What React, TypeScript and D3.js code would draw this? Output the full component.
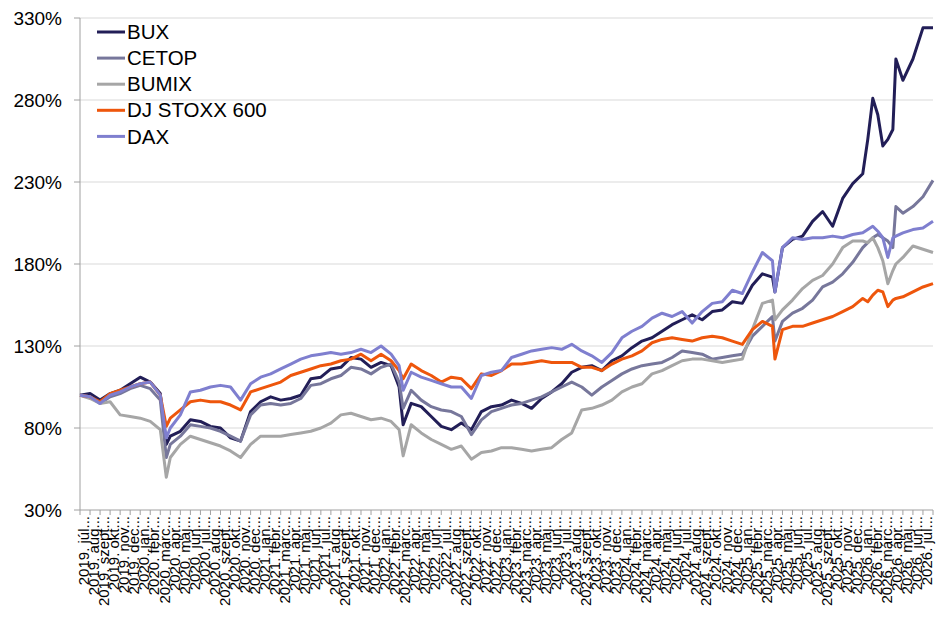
import * as d3 from 'd3';

// month offsets from 2019 júl. 1 (irregular: monthly plus a few sharp turns)
const sampleMonths = [
  0, 1, 2, 3, 4, 5, 6, 7, 8, 8.6,
  9, 10, 11, 12, 13, 14, 15, 16, 17,
  18, 19, 20, 21, 22, 23, 24, 25, 26, 27, 28, 29, 30, 31,
  31.8, 32.2,
  33, 34, 35, 36, 37, 38, 39, 40, 41, 42, 43, 44, 45, 46, 47, 48, 49, 50, 51,
  52, 53, 54, 55, 56, 57, 58, 59, 60, 61, 62, 63, 64, 65, 66, 67, 68, 69,
  69.25,
  70, 71, 72, 73, 74, 75, 76, 77, 78,
  78.5, 79, 79.5, 80, 80.5, 81, 81.3, 82, 83, 84, 85,
];

const bux = [
  100, 101, 97, 101, 103, 107, 111, 108, 101, 70,
  75, 78, 85, 84, 81, 80, 74, 72, 90,
  96, 99, 97, 98, 100, 110, 111, 116, 117, 123, 122, 117, 120, 118,
  105, 82,
  95, 93, 87, 81, 79, 83, 79, 90, 93, 94, 97, 95, 92, 98, 102, 107, 114, 117, 118,
  115, 121, 124, 129, 133, 135, 139, 143, 146, 149, 146, 151, 152, 157, 156, 167, 174, 172,
  163,
  190, 195, 197, 206, 212, 203, 220, 229, 235,
  256, 281, 271, 252, 256, 262, 305, 292, 305, 324, 324,
];

const cetop = [
  100, 99, 95, 99, 101, 104, 106, 104, 97, 62,
  70, 75, 82, 81, 80, 78, 75, 72, 88,
  94, 95, 94, 95, 98, 106, 107, 110, 112, 117, 116, 113, 117, 119,
  108, 92,
  103, 97, 93, 91, 90, 87, 76, 85, 90, 92, 94, 95, 97, 99, 102, 105, 108, 105, 100,
  105, 109, 113, 116, 118, 119, 120, 123, 127, 126, 125, 122, 123, 124, 125, 136, 142, 148,
  133,
  145, 150, 153, 158, 166, 169, 174, 181, 190,
  193, 196, 198, 196, 194, 190, 215, 211, 215, 221, 231,
];

const bumix = [
  100, 98, 95, 96, 88, 87, 86, 84, 79, 50,
  62, 70, 75, 73, 71, 69, 66, 62, 70,
  75, 75, 75, 76, 77, 78, 80, 83, 88, 89, 87, 85, 86, 84,
  79, 63,
  82, 77, 73, 70, 67, 69, 61, 65, 66, 68, 68, 67, 66, 67, 68, 73, 77, 91, 92,
  94, 97, 102, 105, 107, 113, 115, 118, 121, 122, 122, 121, 120, 121, 122, 140, 156, 158,
  146,
  152, 158, 165, 170, 173, 180, 190, 194, 194,
  193, 196, 190, 182, 168, 176, 180, 184, 191, 189, 187,
];

const stoxx = [
  100, 99, 96, 101, 103, 105, 107, 108, 100, 81,
  86, 91, 96, 97, 96, 96, 94, 91, 102,
  104, 106, 108, 112, 114, 116, 118, 119, 121, 122, 125, 121, 125, 121,
  115, 110,
  119, 115, 112, 108, 111, 110, 104, 113, 112, 115, 119, 119, 120, 121, 120, 120, 120, 117, 117,
  115, 119, 122, 124, 127, 132, 134, 135, 134, 133, 135, 136, 135, 133, 131, 140, 145, 142,
  122,
  140, 142, 142, 144, 146, 148, 151, 154, 159,
  157, 161, 164, 163, 154, 158, 159, 160, 163, 166, 168,
];

const dax = [
  100, 99, 95, 100, 102, 105, 107, 108, 100, 74,
  80, 88, 102, 103, 105, 106, 105, 97, 107,
  111, 113, 116, 119, 122, 124, 125, 126, 125, 126, 128, 126, 130, 125,
  118, 103,
  114, 111, 109, 107, 105, 105, 98, 112, 114, 115, 123, 125, 127, 128, 129, 128, 131, 127, 124,
  120, 126, 135, 139, 142, 147, 150, 148, 151, 144, 151, 156, 157, 164, 162, 175, 187, 182,
  163,
  190, 196, 195, 196, 196, 197, 196, 198, 199,
  201, 203, 200, 196, 184, 196, 197, 199, 201, 202, 206,
];

const seriesNames = ['BUX', 'CETOP', 'BUMIX', 'DJ STOXX 600', 'DAX'];
const seriesValues = [bux, cetop, bumix, stoxx, dax];
const seriesColors = ['#221e57', '#77779b', '#a6a6a6', '#ee560c', '#7f7fcf'];

const monthNames = ['jan', 'febr', 'márc', 'ápr', 'máj', 'jún', 'júl', 'aug', 'szept', 'okt', 'nov', 'dec'];
const firstYear = 2019;
const firstMonth = 6; // júl.
const monthCount = 85;
const monthLabels = d3.range(monthCount).map(i => {
  const m = firstMonth + i;
  return `${firstYear + Math.floor(m / 12)}. ${monthNames[m % 12]}...`;
});

const yTicks = [30, 80, 130, 180, 230, 280, 330];

const W = 949;
const H = 618;
const font = '"Liberation Sans", Arial, sans-serif';

export default function App() {
  const x = d3.scaleLinear().domain([0, monthCount]).range([80, 933]);
  const y = d3.scaleLinear().domain([30, 330]).range([510, 18]);

  const line = d3.line<number>()
    .x((_, i) => x(sampleMonths[i]))
    .y(d => y(d));

  const axisColor = '#a0a0a0';

  return (
    <svg width={W} height={H} style={{ position: 'absolute', left: 0, top: 0, background: '#fff' }}
      fontFamily={font}>
      {/* gridlines */}
      {yTicks.slice(1).map(t => (
        <line key={t} x1={x(0)} x2={x(monthCount)} y1={y(t)} y2={y(t)} stroke="#d9d9d9" strokeWidth={1} />
      ))}

      {/* y axis */}
      <line x1={x(0)} x2={x(0)} y1={y(330)} y2={y(30)} stroke={axisColor} strokeWidth={1} />
      {yTicks.map(t => (
        <g key={t}>
          <line x1={x(0) - 6} x2={x(0)} y1={y(t)} y2={y(t)} stroke={axisColor} />
          <text x={62} y={y(t)} dy="0.35em" textAnchor="end" fontSize={19} fill="#000">{t}%</text>
        </g>
      ))}

      {/* x axis */}
      <line x1={x(0)} x2={x(monthCount)} y1={y(30)} y2={y(30)} stroke={axisColor} strokeWidth={1} />
      {d3.range(monthCount + 1).map(i => (
        <line key={i} x1={x(i)} x2={x(i)} y1={y(30)} y2={y(30) + 5} stroke={axisColor} />
      ))}
      {monthLabels.map((lbl, i) => {
        const cx = x(i) + 4;
        return (
          <text key={lbl} transform={`translate(${cx},516) rotate(-90)`} textAnchor="end"
            dy="0.35em" fontSize={15} fill="#000">{lbl}</text>
        );
      })}

      {/* series */}
      {seriesValues.map((vals, i) => (
        <path key={seriesNames[i]} d={line(vals) ?? ''} fill="none" stroke={seriesColors[i]}
          strokeWidth={3} strokeLinejoin="round" />
      ))}

      {/* legend */}
      {seriesNames.map((name, i) => {
        const ly = 32 + i * 26.1;
        return (
          <g key={name}>
            <line x1={97} x2={125} y1={ly} y2={ly} stroke={seriesColors[i]} strokeWidth={3} />
            <text x={127} y={ly} dy="0.35em" fontSize={20.5} fill="#000">{name}</text>
          </g>
        );
      })}
    </svg>
  );
}
